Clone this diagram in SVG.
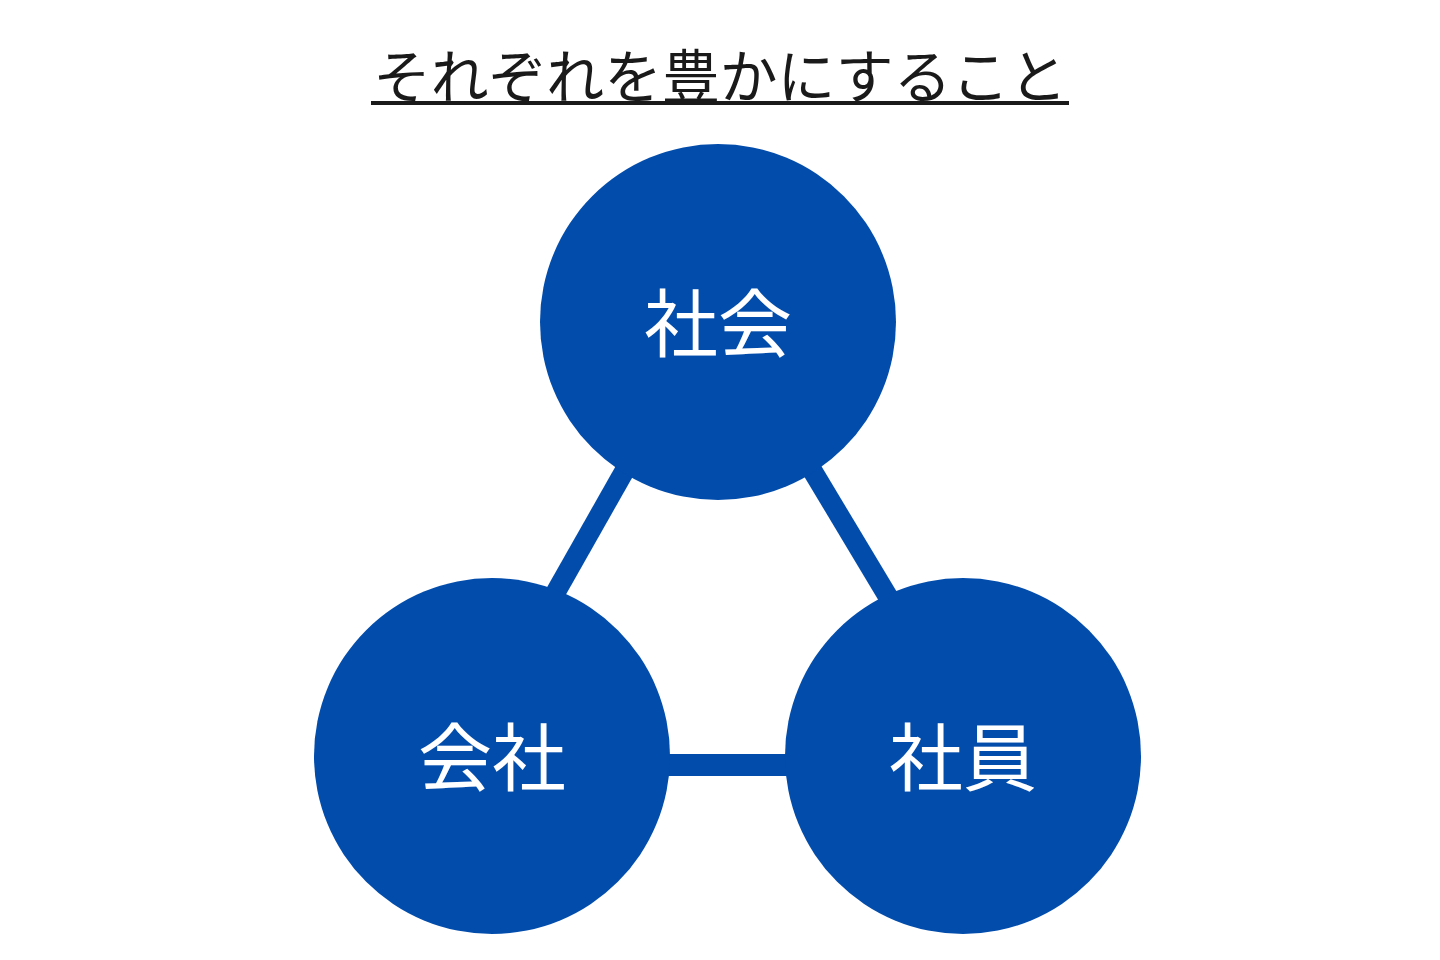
<svg xmlns="http://www.w3.org/2000/svg" width="1440" height="960" viewBox="0 0 1440 960">
<style>
.node{fill:#024CAC}
.lbl{font-family:"Noto Sans CJK JP","Noto Sans",sans-serif;font-size:74px;fill:#ffffff;text-anchor:middle;dominant-baseline:central;font-weight:400}
.title{font-family:"Noto Sans CJK JP","Noto Sans",sans-serif;font-size:58px;fill:#1a1a1a;text-anchor:middle;dominant-baseline:central;font-weight:400}
.conn{stroke:#024CAC;stroke-width:20;fill:none}
</style>
<rect width="1440" height="960" fill="#ffffff"/>
<g id="title">
<text class="title" x="720" y="73" textLength="694" lengthAdjust="spacingAndGlyphs">それぞれを豊かにすること</text>
<rect x="371" y="101" width="698" height="4" fill="#1a1a1a"/>
</g>
<g id="connectors">
<line class="conn" x1="642" y1="440" x2="540" y2="620"/>
<line class="conn" x1="794" y1="440" x2="902" y2="620"/>
<line class="conn" x1="650" y1="765" x2="800" y2="765" style="stroke-width:22"/>
</g>
<g id="node-shakai">
<circle class="node" cx="718" cy="322" r="178"/>
<text class="lbl" x="718" y="318">社会</text>
</g>
<g id="node-kaisha">
<circle class="node" cx="492" cy="756" r="178"/>
<text class="lbl" x="492" y="752">会社</text>
</g>
<g id="node-shain">
<circle class="node" cx="963" cy="756" r="178"/>
<text class="lbl" x="963" y="752">社員</text>
</g>
</svg>
